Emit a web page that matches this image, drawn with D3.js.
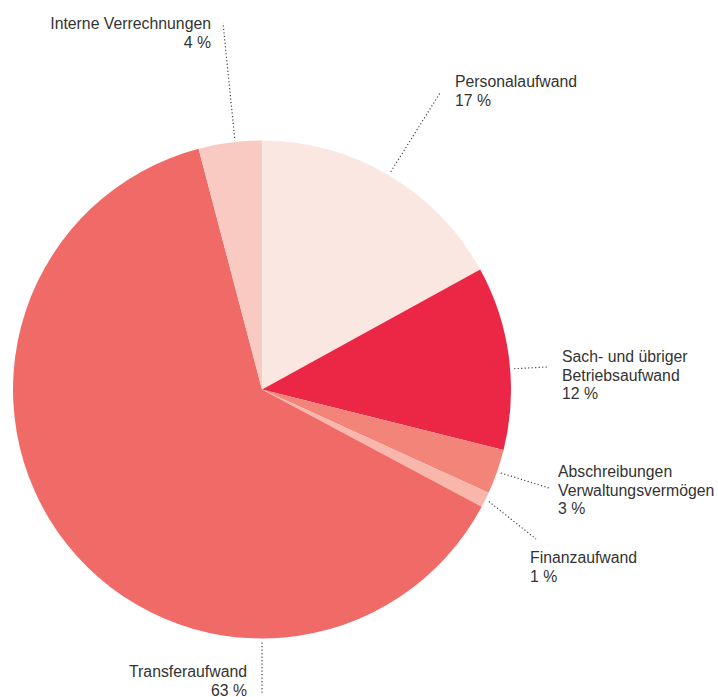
<!DOCTYPE html>
<html>
<head>
<meta charset="utf-8">
<script src="https://cdn.jsdelivr.net/npm/d3@7"></script>
<style>
  body { margin: 0; background: #fff; }
  svg { display: block; }
  text { font-family: "Liberation Sans", Arial, sans-serif; font-size: 15.8px; fill: #333; }
</style>
</head>
<body>
<svg id="chart"></svg>
<script>
// data (share of total, %)
var categories = ["Personalaufwand", "Sach- und übriger Betriebsaufwand", "Abschreibungen Verwaltungsvermögen", "Finanzaufwand", "Transferaufwand", "Interne Verrechnungen"];
var values = [17.0, 11.9, 2.9, 1.0, 63.1, 4.1];
var shown = ["17 %", "12 %", "3 %", "1 %", "63 %", "4 %"];
var colors = ["#fbe7e1", "#eb2745", "#f2847a", "#f9b6ab", "#f06b67", "#f9cac1"];

// label layout: text lines, leader angle (deg from 12 o'clock, null = middle of slice), leader end, text position
var labelLines = [
  ["Personalaufwand"],
  ["Sach- und übriger", "Betriebsaufwand"],
  ["Abschreibungen", "Verwaltungsvermögen"],
  ["Finanzaufwand"],
  ["Transferaufwand"],
  ["Interne Verrechnungen"]
];
var layout = [
  {angle: null,  end: [440, 93],  tx: 455, ty: 87,  anchor: "start"},
  {angle: 85.3,  end: [547, 367], tx: 562, ty: 362, anchor: "start"},
  {angle: null,  end: [549, 488], tx: 558, ty: 477, anchor: "start"},
  {angle: null,  end: [536, 539], tx: 530, ty: 563, anchor: "start"},
  {angle: 180,   end: [262, 695], tx: 247, ty: 677, anchor: "end"},
  {angle: 353.8, end: [223, 23],  tx: 211, ty: 29,  anchor: "end"}
];

var width = 718, height = 697;
var cx = 262, cy = 389.5, radius = 249;
var lineHeight = 18.5;

var svg = d3.select("#chart")
    .attr("width", width)
    .attr("height", height);

var g = svg.append("g")
    .attr("transform", "translate(" + cx + "," + cy + ")");

var data = categories.map(function(c, i) { return {name: c, value: values[i], i: i}; });

var pie = d3.pie()
    .value(function(d) { return d.value; })
    .sort(null);

var arc = d3.arc()
    .innerRadius(0)
    .outerRadius(radius);

var arcs = pie(data);

g.selectAll("path.slice")
  .data(arcs)
  .enter()
  .append("path")
    .attr("class", "slice")
    .attr("d", arc)
    .attr("fill", function(d) { return colors[d.data.i]; });

// leader lines start just outside the rim
svg.selectAll("line.leader")
  .data(arcs)
  .enter()
  .append("line")
    .attr("class", "leader")
    .attr("x1", function(d) { return cx + (radius + 4) * Math.sin(leaderAngle(d)); })
    .attr("y1", function(d) { return cy - (radius + 4) * Math.cos(leaderAngle(d)); })
    .attr("x2", function(d) { return layout[d.data.i].end[0]; })
    .attr("y2", function(d) { return layout[d.data.i].end[1]; })
    .attr("stroke", "#444")
    .attr("stroke-width", 1.2)
    .attr("stroke-dasharray", "1.2,2.3");

function leaderAngle(d) {
  var a = layout[d.data.i].angle;
  if (a === null) return (d.startAngle + d.endAngle) / 2;
  return a * Math.PI / 180;
}

var labels = svg.selectAll("text.label")
  .data(arcs)
  .enter()
  .append("text")
    .attr("class", "label")
    .attr("text-anchor", function(d) { return layout[d.data.i].anchor; });

labels.each(function(d) {
  var L = layout[d.data.i];
  var lines = labelLines[d.data.i].concat([shown[d.data.i]]);
  d3.select(this).selectAll("tspan")
    .data(lines)
    .enter()
    .append("tspan")
      .attr("x", L.tx)
      .attr("y", function(t, k) { return L.ty + k * lineHeight; })
      .text(function(t) { return t; });
});
</script>
</body>
</html>
